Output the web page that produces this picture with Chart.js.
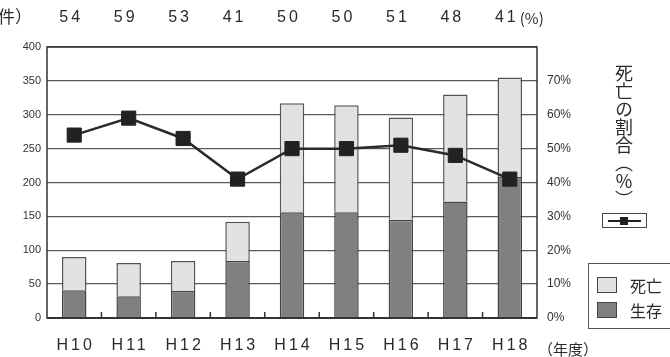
<!DOCTYPE html>
<html><head><meta charset="utf-8">
<script src="https://cdn.jsdelivr.net/npm/chart.js@4/dist/chart.umd.min.js"></script>
<style>
html,body{margin:0;padding:0;background:#fff;}
#wrap{position:relative;width:670px;height:357px;overflow:hidden;background:#fff;}
canvas{position:absolute;left:0;top:0;}
.t{position:absolute;font-family:"Noto Sans CJK JP",sans-serif;color:#2a2a2a;white-space:nowrap;}
#vt{left:614px;top:64px;font-size:18px;line-height:20px;writing-mode:vertical-rl;}
#lineKey{position:absolute;left:602px;top:213px;width:43px;height:13px;border:1.5px solid #444;background:#fff;}
#lineKey .ln{position:absolute;left:5px;top:6px;width:33px;height:2px;background:#222;}
#lineKey .mk{position:absolute;left:17px;top:3px;width:8px;height:8px;background:#222;}
#legend{position:absolute;left:588px;top:263px;width:90px;height:64px;border:1.5px solid #555;background:#fff;}
.sw{position:absolute;left:8px;width:18px;height:14px;border:1.5px solid #444;}
.lt{position:absolute;left:41px;font-size:16px;line-height:18px;}
</style></head><body>
<div id="wrap">
<canvas id="c" width="670" height="357"></canvas>
<div class="t" style="left:-2px;top:5px;font-size:17px;line-height:22px;">件）</div>
<div class="t" style="left:538px;top:339px;font-size:15px;line-height:20px;">（年度）</div>
<div class="t" id="vt">死亡の割合（％）</div>
<div id="lineKey"><div class="ln"></div><div class="mk"></div></div>
<div id="legend">
  <div class="sw" style="top:13px;background:#e2e2e2;"></div>
  <div class="t lt" style="top:12px;">死亡</div>
  <div class="sw" style="top:38px;background:#808080;"></div>
  <div class="t lt" style="top:37px;">生存</div>
</div>
</div>
<script>
const categories = ['H10','H11','H12','H13','H14','H15','H16','H17','H18'];
const survival = [41, 32, 40, 84, 156, 156, 145, 172, 208];
const death    = [49, 49, 44, 58, 161, 158, 151, 158, 147];
const deathPct = [54, 59, 53, 41, 50, 50, 51, 48, 41];

const deco = {
  id: 'deco',
  afterDatasetsDraw(chart) {
    const {ctx, chartArea: a, scales: {x}} = chart;
    ctx.save();
    ctx.strokeStyle = '#333';
    ctx.lineWidth = 1.5;
    ctx.strokeRect(a.left, a.top, a.right - a.left, a.bottom - a.top);
    ctx.lineWidth = 2;
    ctx.beginPath(); ctx.moveTo(a.left, a.bottom); ctx.lineTo(a.right, a.bottom); ctx.stroke();
    ctx.lineWidth = 1.5;
    for (let i = 1; i < categories.length; i++) {
      const bx = (x.getPixelForValue(i - 1) + x.getPixelForValue(i)) / 2;
      ctx.beginPath(); ctx.moveTo(bx, a.bottom); ctx.lineTo(bx, a.bottom - 6); ctx.stroke();
    }
    ctx.restore();
  },
  afterDraw(chart) {
    const {ctx, scales: {x}} = chart;
    ctx.save();
    ctx.fillStyle = '#2a2a2a';
    ctx.textAlign = 'center';
    ctx.textBaseline = 'middle';
    ctx.font = '16px "Liberation Sans", Arial, sans-serif';
    ctx.letterSpacing = '3px';
    categories.forEach((c, i) => {
      ctx.fillText(c, x.getPixelForValue(i) + 1.5, 346);
    });
    deathPct.forEach((v, i) => {
      ctx.fillText(String(v), x.getPixelForValue(i) - 3, 18);
    });
    ctx.letterSpacing = '0px';
    ctx.textAlign = 'left';
    ctx.font = '15px "Noto Sans CJK JP", sans-serif';
    const last = categories.length - 1;
    ctx.fillText('(%)', x.getPixelForValue(last) + 10, 18);
    ctx.restore();
  }
};

new Chart(document.getElementById('c'), {
  data: {
    labels: categories,
    datasets: [
      { type: 'line', label: '死亡の割合(%)', data: deathPct, yAxisID: 'y1', order: 0,
        borderColor: '#2a2a2a', borderWidth: 2.5, pointStyle: 'rect', pointRadius: 10,
        pointBackgroundColor: '#222', pointBorderColor: '#222', pointBorderWidth: 1, tension: 0 },
      { type: 'bar', label: '生存', data: survival, stack: 's', order: 1,
        backgroundColor: '#808080', borderColor: '#444', borderWidth: 1.5,
        barPercentage: 0.45, categoryPercentage: 1 },
      { type: 'bar', label: '死亡', data: death, stack: 's', order: 2,
        backgroundColor: '#e2e2e2', borderColor: '#555', borderWidth: 1.5,
        barPercentage: 0.45, categoryPercentage: 1 }
    ]
  },
  options: {
    responsive: false,
    animation: false,
    layout: { padding: { left: 0, right: 88, top: 47, bottom: 0 } },
    plugins: { legend: { display: false }, tooltip: { enabled: false } },
    scales: {
      x: { stacked: true, grid: { display: false }, border: { display: false },
           ticks: { display: false },
           afterFit: s => { s.height = 39; } },
      y: { stacked: true, min: 0, max: 400,
           ticks: { stepSize: 50, font: { family: '"Liberation Sans", Arial, sans-serif', size: 11 }, color: '#333', padding: 6 },
           grid: { color: '#5a5a5a', lineWidth: 1.3, drawTicks: false },
           border: { display: false },
           afterFit: s => { s.width = 47; } },
      y1: { position: 'right', min: 0, max: 80,
            ticks: { stepSize: 10, font: { family: '"Liberation Sans", Arial, sans-serif', size: 12 }, color: '#333', padding: 10,
                     callback: v => v === 80 ? '' : v + '%' },
            grid: { drawOnChartArea: false, drawTicks: false },
            border: { display: false },
            afterFit: s => { s.width = 45; } }
    }
  },
  plugins: [deco]
});
</script>
</body></html>
